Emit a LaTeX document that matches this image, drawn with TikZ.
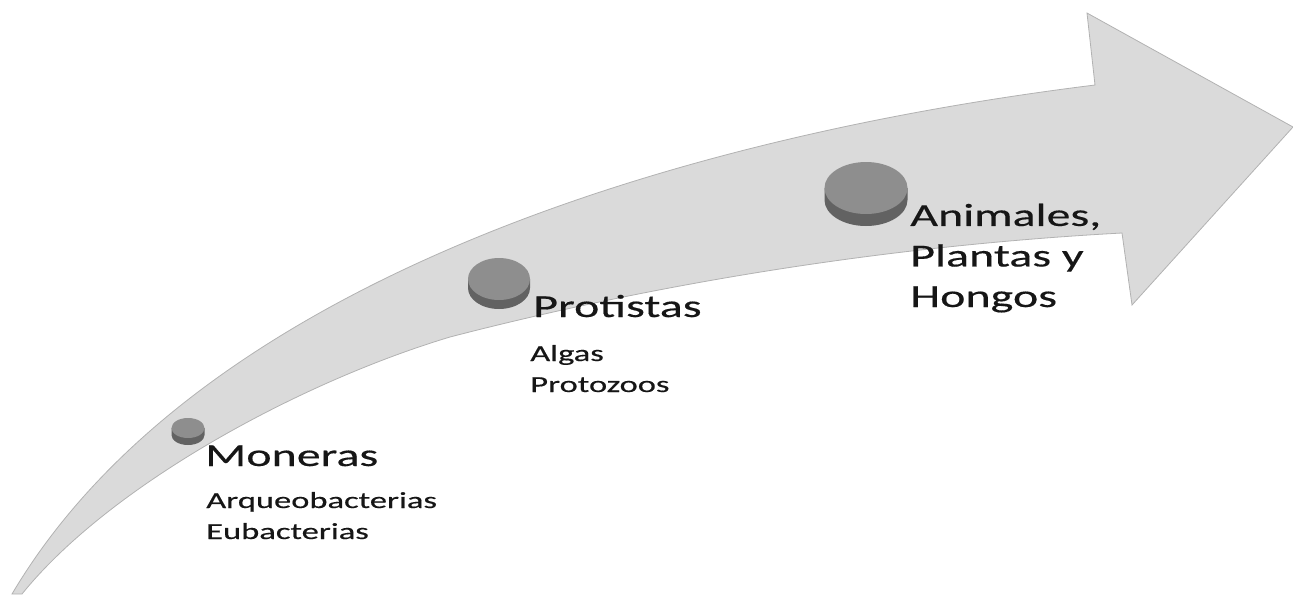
\documentclass[tikz,border=0pt]{standalone}
\usepackage{fontspec}
\setmainfont{Carlito}[FakeStretch=1.5, FakeBold=0.4]
\usetikzlibrary{calc}

\definecolor{arrowfill}{RGB}{218,218,218}
\definecolor{arrowline}{RGB}{178,178,178}
\definecolor{discface}{RGB}{142,142,142}
\definecolor{discrim}{RGB}{98,98,98}
\definecolor{labeltext}{RGB}{22,22,22}

\tikzset{
  kingdom/.style={anchor=base west, inner sep=0pt, text=labeltext, align=left,
    font=\fontsize{24}{30.4}\selectfont},
  members/.style={anchor=base west, inner sep=0pt, text=labeltext, align=left,
    font=\fontsize{17.25}{23.25}\selectfont},
}

% disc: name, centre, x radius, y radius, depth
\newcommand{\kdisc}[5]{%
  \coordinate (#1) at (#2);
  \fill[discrim] ($(#1)+(-#3,0)$) -- ++(0,#5)
    arc[start angle=180, end angle=0, x radius=#3, y radius=#4] -- ++(0,-#5) -- cycle;
  \fill[discface] (#1) ellipse[x radius=#3, y radius=#4];
}

\begin{document}
\begin{tikzpicture}[x=0.75pt, y=-0.75pt]
    \useasboundingbox (0,0) rectangle (1293,594);
    % the rising arrow
    \filldraw[fill=arrowfill, draw=arrowline, line width=0.6pt]
      (12,594) .. controls (190,293) and (650,140) .. (1095,85)
      -- (1087,13) -- (1293,127) -- (1132,305) -- (1122,233)
      .. controls (900,245) and (670,280) .. (450,337)
      .. controls (300,382) and (110,485) .. (22,594) -- cycle;
    % discs
    \kdisc{moneras}{188,428}{16.5}{10}{7}
    \kdisc{protistas}{499,279}{31}{21}{9}
    \kdisc{animales}{866,188}{41.5}{26}{12}
    % labels (base = baseline of the last line)
    \node[kingdom] (moneras-name) at (205,466) {Moneras};
    \node[members] (moneras-sub) at (206,539) {Arqueobacterias\\Eubacterias};
    \node[kingdom] (protistas-name) at (533,317) {Protistas};
    \node[members] (protistas-sub) at (530,392) {Algas\\Protozoos};
    \node[kingdom] (animales-name) at (910,307) {Animales,\\Plantas y\\Hongos};
\end{tikzpicture}
\end{document}
